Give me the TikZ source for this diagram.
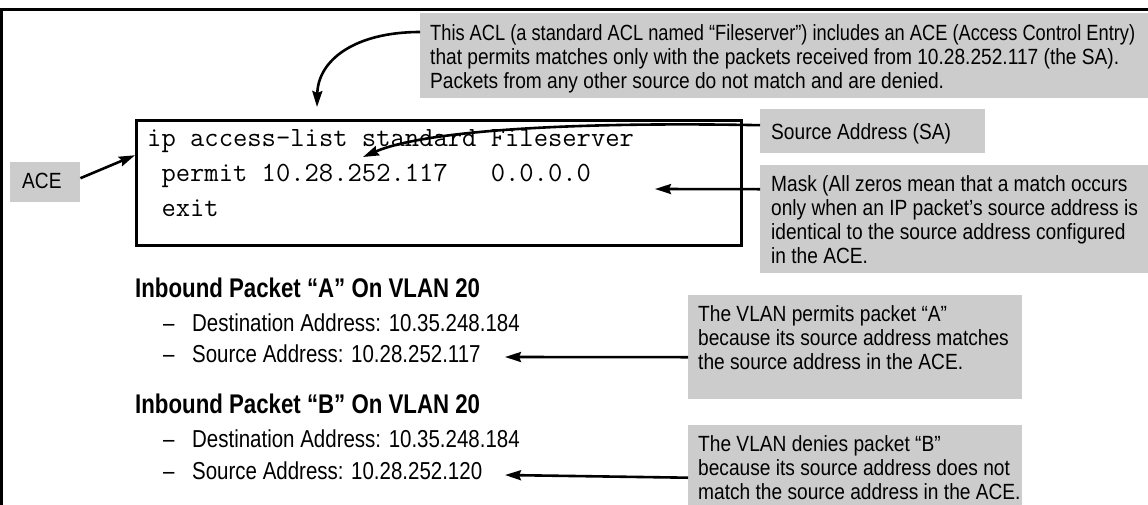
\documentclass[tikz,border=0pt]{standalone}
\usepackage{fontspec}
\usepackage{graphicx}
\setmainfont{Liberation Sans}
\newfontfamily\calfam[FakeStretch=0.87]{Liberation Sans}
\newfontfamily\bulfam[FakeStretch=0.836]{Liberation Sans}
\newfontfamily\headfam[FakeStretch=0.824]{Liberation Sans}
\usetikzlibrary{arrows.meta}
\definecolor{boxgray}{RGB}{204,204,204}
\begin{document}
\begin{tikzpicture}[x=1pt,y=-1pt,
  gbox/.style={fill=boxgray,draw=none,inner sep=0pt,anchor=north west},
  txt/.style={anchor=base west,inner sep=0pt},
  caltxt/.style={txt,font=\calfam\fontsize{22}{24}\selectfont},
  bultxt/.style={txt,font=\bulfam\fontsize{24.5}{26}\selectfont},
  headtxt/.style={txt,font=\headfam\bfseries\fontsize{27}{30}\selectfont},
  codetxt/.style={txt,font=\ttfamily\fontsize{27.8}{30}\selectfont},
  arr/.style={line width=2.6pt,-{Stealth[length=16pt,width=10pt,inset=2pt]}}]
\useasboundingbox (0,0) rectangle (1148,504);
\clip (0,0) rectangle (1148,504);
\fill[white] (0,0) rectangle (1148,504);
% outer frame (only top and left edges visible)
\draw[line width=3pt] (1.5,530) -- (1.5,9) -- (1170,9);

% gray boxes
\node[gbox,minimum width=740pt,minimum height=85pt] (callout) at (420,13) {};
\node[gbox,minimum width=70pt,minimum height=40pt] (acebox) at (10,162) {};
\node[gbox,minimum width=225pt,minimum height=44pt] (sabox) at (760,109) {};
\node[gbox,minimum width=400pt,minimum height=108pt] (maskbox) at (760,165) {};
\node[gbox,minimum width=334pt,minimum height=104pt] (boxA) at (688,295) {};
\node[gbox,minimum width=334pt,minimum height=90pt] (boxB) at (688,425) {};

% code box
\node[draw,line width=2.5pt,fill=white,inner sep=0pt,anchor=north west,
      minimum width=605pt,minimum height=125pt] (codebox) at (135,119) {};
\node[codetxt] (code1) at (147,146.5) {ip access-list standard Fileserver};
\node[codetxt] (code2) at (161.3,181.5) {permit 10.28.252.117\ \ \ 0.0.0.0};
\node[codetxt] (code3) at (161.3,216) {exit};

% callout texts
\node[caltxt] (c1) at (430,40) {\resizebox{705pt}{\height}{This ACL (a standard ACL named “Fileserver”) includes an ACE (Access Control Entry)}};
\node[caltxt] (c2) at (430,64) {that permits matches only with the packets received from 10.28.252.117 (the SA).};
\node[caltxt] (c3) at (430,88) {Packets from any other source do not match and are denied.};

\node[caltxt] (acet) at (22,188) {ACE};
\node[caltxt] (sat) at (771,139) {Source Address (SA)};

\node[caltxt] (m1) at (771,191) {Mask (All zeros mean that a match occurs};
\node[caltxt] (m2) at (771,215) {only when an IP packet’s source address is};
\node[caltxt] (m3) at (771,239) {identical to the source address configured};
\node[caltxt] (m4) at (771,263) {in the ACE.};

\node[caltxt] (a1) at (698,321) {The VLAN permits packet “A”};
\node[caltxt] (a2) at (698,345) {because its source address matches};
\node[caltxt] (a3) at (698,369.5) {the source address in the ACE.};

\node[caltxt] (b1) at (698,451) {The VLAN denies packet “B”};
\node[caltxt] (b2) at (698,475) {because its source address does not};
\node[caltxt] (b3) at (698,499) {match the source address in the ACE.};

% packet listings
\node[headtxt] (h1) at (135,297) {Inbound Packet “A” On VLAN 20};
\node[bultxt] (p1) at (163,331) {\makebox[29pt][l]{–}Destination Address: 10.35.248.184};
\node[bultxt] (p2) at (163,362) {\makebox[29pt][l]{–}Source Address: 10.28.252.117};
\node[headtxt] (h2) at (135,413) {Inbound Packet “B” On VLAN 20};
\node[bultxt] (p3) at (163,447) {\makebox[29pt][l]{–}Destination Address: 10.35.248.184};
\node[bultxt] (p4) at (163,479) {\makebox[29pt][l]{–}Source Address: 10.28.252.120};

% target points
\coordinate (codetgt) at (317,107);
\coordinate (satgt) at (363,157);
\coordinate (masktgt) at (655,189);
\coordinate (tgtA) at (505,357);
\coordinate (tgtB) at (505,475);

% connectors
\draw[arr] ([yshift=-19pt]callout.north west) .. controls (355,32) and (318,60) .. (codetgt);
\draw[arr] ([yshift=6pt]sabox.west) .. controls (600,122) and (430,128) .. (satgt);
\draw[arr] ([yshift=30pt]maskbox.west) -- (masktgt);
\draw[arr] ([yshift=4pt]acebox.east) -- ([yshift=27.5pt]codebox.west);
\draw[arr] ([yshift=-10pt]boxA.west) -- (tgtA);
\draw[arr] ([yshift=-7.5pt]boxB.west) -- (tgtB);
\end{tikzpicture}
\end{document}
